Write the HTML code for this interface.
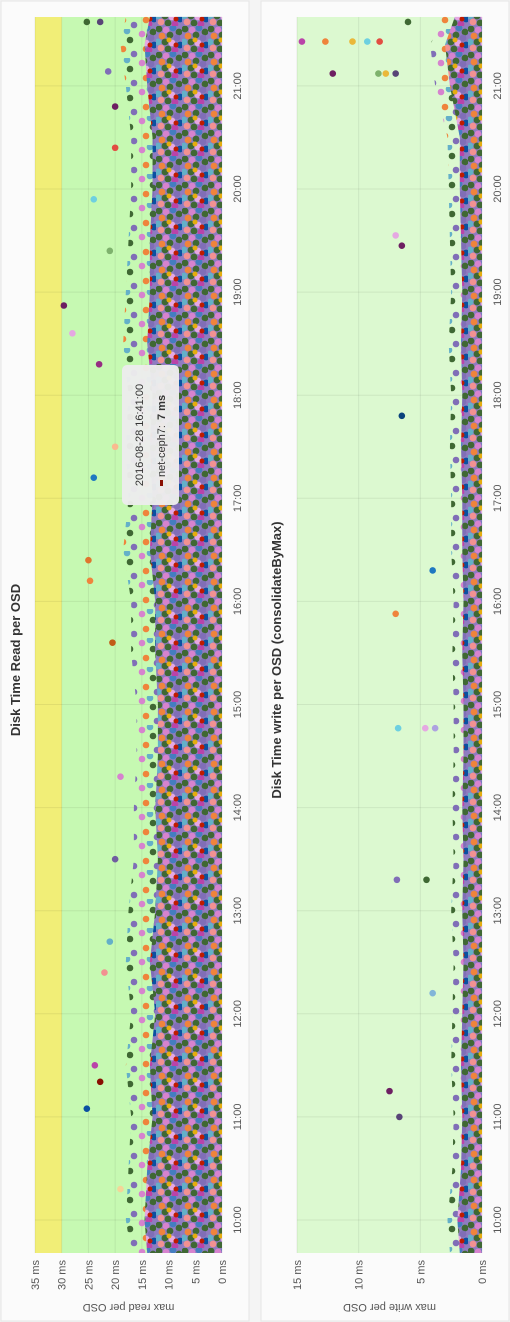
<!DOCTYPE html>
<html><head><meta charset="utf-8"><style>
html,body{margin:0;padding:0;background:#f4f4f4;}
svg{display:block;font-family:"Liberation Sans",sans-serif;}
</style></head><body>
<svg id="c" width="510" height="1322" viewBox="0 0 510 1322">
<defs>
<pattern id="dots" width="26" height="26" patternUnits="userSpaceOnUse">
<rect width="26" height="26" fill="#8f7cc0"/>
<circle cx="3" cy="3" r="3.4" fill="#3F6833"/><circle cx="10" cy="4" r="3.4" fill="#D683CE"/>
<circle cx="17" cy="2" r="3.4" fill="#447EBF"/><circle cx="23" cy="6" r="3.4" fill="#3F6833"/>
<circle cx="6" cy="10" r="3.4" fill="#EF843C"/><circle cx="14" cy="9" r="3.4" fill="#3F6833"/>
<circle cx="21" cy="12" r="3.4" fill="#806EB7"/><circle cx="2" cy="16" r="3.4" fill="#64B0C8"/>
<circle cx="9" cy="16" r="3.4" fill="#3F6833"/><circle cx="16" cy="17" r="3.4" fill="#E5A8E2"/>
<circle cx="24" cy="19" r="3.4" fill="#0A50A1"/><circle cx="5" cy="22" r="3.4" fill="#F29191"/>
<circle cx="12" cy="23" r="3.4" fill="#3F6833"/><circle cx="19" cy="24" r="3.4" fill="#BA43A9"/>
<circle cx="13" cy="14" r="2.5" fill="#E5AC0E"/><circle cx="20" cy="19" r="2.5" fill="#BF1B00"/>
</pattern>
<pattern id="sparse" width="23" height="29" patternUnits="userSpaceOnUse">
<circle cx="4" cy="5" r="3.3" fill="#D683CE"/><circle cx="15" cy="11" r="3.3" fill="#3F6833"/>
<circle cx="8" cy="20" r="3.3" fill="#EF843C"/><circle cx="19" cy="25" r="3.3" fill="#806EB7"/>
<circle cx="12" cy="2" r="3.3" fill="#64B0C8"/>
</pattern>
</defs>
<rect x="1" y="1" width="248" height="1320" fill="#fbfbfb" stroke="#e6e6e6"/>
<rect x="261" y="1" width="248" height="1320" fill="#fbfbfb" stroke="#e6e6e6"/>
<g id="g1"></g><g id="g2"></g>
<g>
<rect x="122" y="365" width="57" height="140" rx="5" fill="#ececec" opacity="0.97"/>
<text transform="rotate(-90 143 435)" x="143" y="435" text-anchor="middle" font-size="11" fill="#333">2016-08-28 16:41:00</text>
<rect x="160" y="480" width="3" height="6" fill="#890F02"/>
<text transform="rotate(-90 165 477)" x="165" y="477" font-size="11" fill="#333">net-ceph7:</text>
<text transform="rotate(-90 165 420)" x="165" y="420" font-size="11" font-weight="bold" fill="#333">7 ms</text>
</g>
</svg>
<script>
// time in hours, values in ms
const hours=[10,11,12,13,14,15,16,17,18,19,20,21];
const readTicks=[0,5,10,15,20,25,30,35];
const writeTicks=[0,5,10,15];
const envT=[9.68,10,10.5,11,11.5,12,12.5,13,13.5,14,14.5,15,15.5,16,16.5,17,17.5,18,18.5,19,19.5,20,20.5,21,21.4,21.67];
const readEnv=[14,14.5,14,13,13.5,12.5,13.5,12.5,12,12.5,12,12,12.5,12.5,13.5,13,13.5,13,14,13.5,13.5,13,13,14,14.5,13.5];
const readFringe=[17,18,17.5,17,18,17,18,17.5,16.5,16.5,16,16,17,17,18.5,17.5,18,17.5,18.5,18,17.5,17,17,18,19,18];
const writeEnv=[1.8,2,1.7,1.6,1.7,1.6,1.5,1.6,1.5,1.6,1.5,1.5,1.6,1.5,1.6,1.6,1.7,1.6,1.7,1.6,1.7,1.8,1.8,2.6,3,2.2];
const writeFringe=[2.6,2.8,2.4,2.3,2.5,2.4,2.3,2.5,2.3,2.4,2.3,2.3,2.4,2.3,2.5,2.5,2.6,2.5,2.7,2.5,2.6,2.7,2.8,3.8,4.2,3.2];
const readOutT=[21.62,21.62,21.14,18.87,18.6,11.08,11.34,11.5,19.9,16.2,16.4,17.5,12.7,14.3,15.6,19.4,20.4,17.2,18.3,12.4,13.5,10.3,20.8];
const readOutV=[25.3,22.8,21.3,29.6,28,25.3,22.8,23.8,24,24.7,25,20,21,19,20.5,21,20,24,23,22,20,19,20];
const readOutC=["#3F6833","#584477","#806EB7","#6D1F62","#E5A8E2","#0A50A1","#890F02","#BA43A9","#6ED0E0","#EF843C","#E0752D","#F9BA8F","#64B0C8","#D683CE","#C15C17","#7EB26D","#E24D42","#1F78C1","#962D82","#F29191","#705DA0","#F4D598","#6D1F62"];
const writeOutT=[21.43,21.43,21.43,21.43,21.43,21.12,21.12,21.12,21.12,19.45,19.55,15.88,14.77,14.77,14.77,13.3,13.3,11.25,11.0,12.2,17.8,16.3,21.62];
const writeOutV=[14.6,12.7,10.5,9.3,8.3,12.1,8.4,7.8,7,6.5,7,7,6.8,4.6,3.8,6.9,4.5,7.5,6.7,4,6.5,4,6];
const writeOutC=["#BA43A9","#EF843C","#EAB839","#6ED0E0","#E24D42","#6D1F62","#7EB26D","#EAB839","#584477","#6D1F62","#E5A8E2","#EF843C","#6ED0E0","#E5A8E2","#AEA2E0","#806EB7","#3F6833","#6D1F62","#584477","#82B5D8","#0A437C","#1F78C1","#3F6833"];
const NS="http://www.w3.org/2000/svg";
function mk(p,tag,a){const e=document.createElementNS(NS,tag);for(const k in a)e.setAttribute(k,a[k]);p.appendChild(e);return e;}
const yT=t=>1220-(t-10)*103.1;
function poly(env,xV,x0){
  let pts=envT.map((t,i)=>xV(env[i])+','+yT(t)).join(' ');
  return pts+` ${x0},${yT(envT[envT.length-1])} ${x0},${yT(envT[0])}`;
}
function panel(g,o){
  const xV=v=>o.x0-(v/o.max)*(o.x0-o.x1);
  let r=mk(g,'rect',{x:o.x1,y:17,width:o.x0-o.x1,height:1236,fill:o.bg});
  
  
  if(o.warn){let w=mk(g,'rect',{x:o.x1,y:17,width:xV(30)-o.x1,height:1236,fill:'#f1ee77'});
    
    }
  o.ticks.forEach(v=>{mk(g,'line',{x1:xV(v),x2:xV(v),y1:17,y2:1253,stroke:'#000','stroke-opacity':0.07});
    let t=mk(g,'text',{x:xV(v)+4,y:1260,transform:`rotate(-90 ${xV(v)+4} 1260)`,'text-anchor':'end','font-size':11,fill:'#555'});
    t.textContent=v+' ms';
    
    });
  hours.forEach(h=>{mk(g,'line',{x1:o.x1,x2:o.x0,y1:yT(h),y2:yT(h),stroke:'#000','stroke-opacity':0.07});
    let t=mk(g,'text',{x:o.x0+19,y:yT(h),transform:`rotate(-90 ${o.x0+19} ${yT(h)})`,'text-anchor':'middle','font-size':11,fill:'#555'});
    t.textContent=h+':00';
    
    });
  let fr=mk(g,'polygon',{points:poly(o.fringe,xV,o.x0),fill:'url(#sparse)'});
  
  
  let band=mk(g,'polygon',{points:poly(o.env,xV,o.x0),fill:'url(#dots)'});
  
  
  o.ot.forEach((t,i)=>{let c=mk(g,'circle',{cx:xV(o.ov[i]),cy:yT(t),r:3.3,fill:o.oc[i]});
    
    });
  let tl=mk(g,'text',{x:o.tx,y:660,transform:`rotate(-90 ${o.tx} 660)`,'text-anchor':'middle','font-size':13,'font-weight':'bold',fill:'#333'});
  tl.textContent=o.title;
  
  
  let cx=(o.x0+o.x1)/2;
  let al=mk(g,'text',{x:cx,y:1304,transform:`rotate(180 ${cx} 1304)`,'text-anchor':'middle','font-size':11,fill:'#555'});
  al.textContent=o.axis;
  
  
}
panel(document.getElementById('g1'),{id:'read',x0:222,x1:35,max:35,bg:'#c6f9b2',warn:true,ticks:readTicks,env:readEnv,fringe:readFringe,ot:readOutT,ov:readOutV,oc:readOutC,tx:20,title:'Disk Time Read per OSD',axis:'max read per OSD'});
panel(document.getElementById('g2'),{id:'write',x0:482,x1:297,max:15,bg:'#dcf9d0',warn:false,ticks:writeTicks,env:writeEnv,fringe:writeFringe,ot:writeOutT,ov:writeOutV,oc:writeOutC,tx:281,title:'Disk Time write per OSD (consolidateByMax)',axis:'max write per OSD'});
</script>
</body></html>
